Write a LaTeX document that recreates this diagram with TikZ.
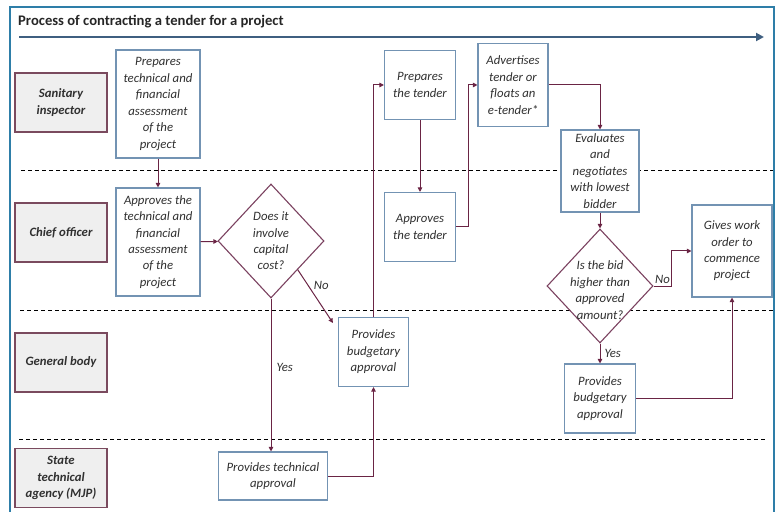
\documentclass[tikz,border=0pt]{standalone}
\usepackage{fontspec}
\setmainfont{Carlito}
\usetikzlibrary{arrows.meta,shapes.geometric,calc}

\definecolor{framecol}{HTML}{2E7EA8}
\definecolor{timecol}{HTML}{3F5F80}
\definecolor{boxcol}{HTML}{7393B3}
\definecolor{lanecol}{HTML}{7A4A5E}
\definecolor{lanefill}{HTML}{EFEFEF}
\definecolor{diacol}{HTML}{7B4260}
\definecolor{flowcol}{HTML}{6A2444}
\definecolor{txtcol}{HTML}{303030}

\newcommand{\bodyfont}{\fontsize{12.8}{16.5}\selectfont\itshape}
\newcommand{\lanefont}{\fontsize{12.8}{16.5}\selectfont\bfseries\itshape}
\newcommand{\headfont}{\fontsize{14.7}{17}\selectfont\bfseries}

\begin{document}
\begin{tikzpicture}[x=1bp,y=-1bp,
  proc/.style={draw=boxcol, line width=1.1bp, fill=white, align=center,
    inner sep=0pt, font=\bodyfont, text=txtcol},
  lane/.style={draw=lanecol, fill=lanefill, line width=1.2bp,
    minimum width=92bp, minimum height=59bp, inner sep=0pt,
    align=center, font=\lanefont, text=txtcol},
  dia/.style={diamond, draw=diacol, line width=1.1bp, fill=white,
    minimum width=106bp, minimum height=114bp, inner sep=0pt},
  dtext/.style={align=center, font=\bodyfont, text=txtcol, inner sep=0pt},
  flow/.style={draw=flowcol, line width=1bp,
    -{Triangle[length=4.5bp,width=4.5bp]}},
  elabel/.style={font=\bodyfont, text=txtcol, inner sep=1pt},
  sep/.style={line width=0.8bp, dash pattern=on 4bp off 3bp},
]
\useasboundingbox (0,0) rectangle (778,512);

% outer frame, open at the bottom
\draw[framecol, line width=1.6bp] (10,513) -- (10,7) -- (774,7) -- (774,513);

% heading and time arrow
\node[anchor=west, font=\headfont, text=black!85, inner sep=0pt] (head) at (18,22)
  {Process of contracting a tender for a project};
\coordinate (tstart) at (19,37);
\coordinate (tend) at (764,37);
\draw[timecol, line width=2.6bp, -{Triangle[length=8bp,width=8bp]}] (tstart) -- (tend);

% swimlane separators
\coordinate (s1a) at (21,170);  \coordinate (s1b) at (773,170);
\coordinate (s2a) at (20,310);  \coordinate (s2b) at (773,310);
\coordinate (s3a) at (19,439);  \coordinate (s3b) at (767,439);
\draw[sep] (s1a) -- (s1b);
\draw[sep] (s2a) -- (s2b);
\draw[sep] (s3a) -- (s3b);

% lane titles
\node[lane] (l1) at (61,102.5) {Sanitary\\inspector};
\node[lane] (l2) at (61,232.5) {Chief officer};
\node[lane] (l3) at (61,362.5) {General body};
\node[lane] (l4) at (61,478) {State\\technical\\agency (MJP)};

% process steps
\node[proc, minimum width=84bp, minimum height=108bp] (prep) at (158,104)
  {Prepares\\technical and\\financial\\assessment\\of the\\project};
\node[proc, minimum width=84bp, minimum height=108bp] (appr) at (158,242)
  {Approves the\\technical and\\financial\\assessment\\of the\\project};
\node[dia, label={[dtext]center:{Does it\\involve\\capital\\cost?}}] (d1) at (271,241) {};
\node[proc, minimum width=70bp, minimum height=69bp] (gb1) at (373.5,352)
  {Provides\\budgetary\\approval};
\node[proc, minimum width=109bp, minimum height=48bp] (tech) at (273,476)
  {Provides technical\\approval};
\node[proc, minimum width=71bp, minimum height=69bp] (ptend) at (420,85)
  {Prepares\\the tender};
\node[proc, minimum width=71bp, minimum height=69bp] (atend) at (420,227)
  {Approves\\the tender};
\node[proc, minimum width=70bp, minimum height=83bp] (adv) at (513,85)
  {Advertises\\tender or\\floats an\\e-tender*};
\node[proc, minimum width=78bp, minimum height=82bp] (eval) at (600,171)
  {Evaluates\\and\\negotiates\\with lowest\\bidder};
\node[dia, label={[dtext, yshift=-4bp]center:{Is the bid\\higher than\\approved\\amount?}}] (d2) at (600,286) {};
\node[proc, minimum width=80bp, minimum height=92bp] (work) at (732,251)
  {Gives work\\order to\\commence\\project};
\node[proc, minimum width=71bp, minimum height=69bp] (gb2) at (600,398.5)
  {Provides\\budgetary\\approval};

% connectors
\draw[flow] (prep) -- (appr);
\draw[flow] (appr) -- (d1);
\coordinate (noA) at ($(d1.east)!0.5!(d1.south)$);
\coordinate (noB) at ($(gb1.north west)+(-5,6)$);
\draw[flow] (noA) -- (noB) node[elabel, pos=0.3, right=4bp] {No};
\draw[flow] (d1.south) -- (d1.south |- tech.north)
  node[elabel, pos=0.45, right=4bp] {Yes};
\draw[flow] (tech.east) -| (gb1.south);
\draw[flow] (gb1.north) |- (ptend.west);
\draw[flow] (ptend) -- (atend);
\draw[flow] (atend.east) -- ++(12,0) |- (adv.west);
\draw[flow] (adv.east) -| (eval.north);
\draw[flow] (eval) -- (d2);
\draw[flow] (d2.east) -- ++(18,0) node[elabel, pos=0.5, above=1bp] {No} |- (work.west);
\draw[flow] (d2.south) -- (gb2.north) node[elabel, midway, right=3bp] {Yes};
\draw[flow] (gb2.east) -| (work.south);
\end{tikzpicture}
\end{document}
